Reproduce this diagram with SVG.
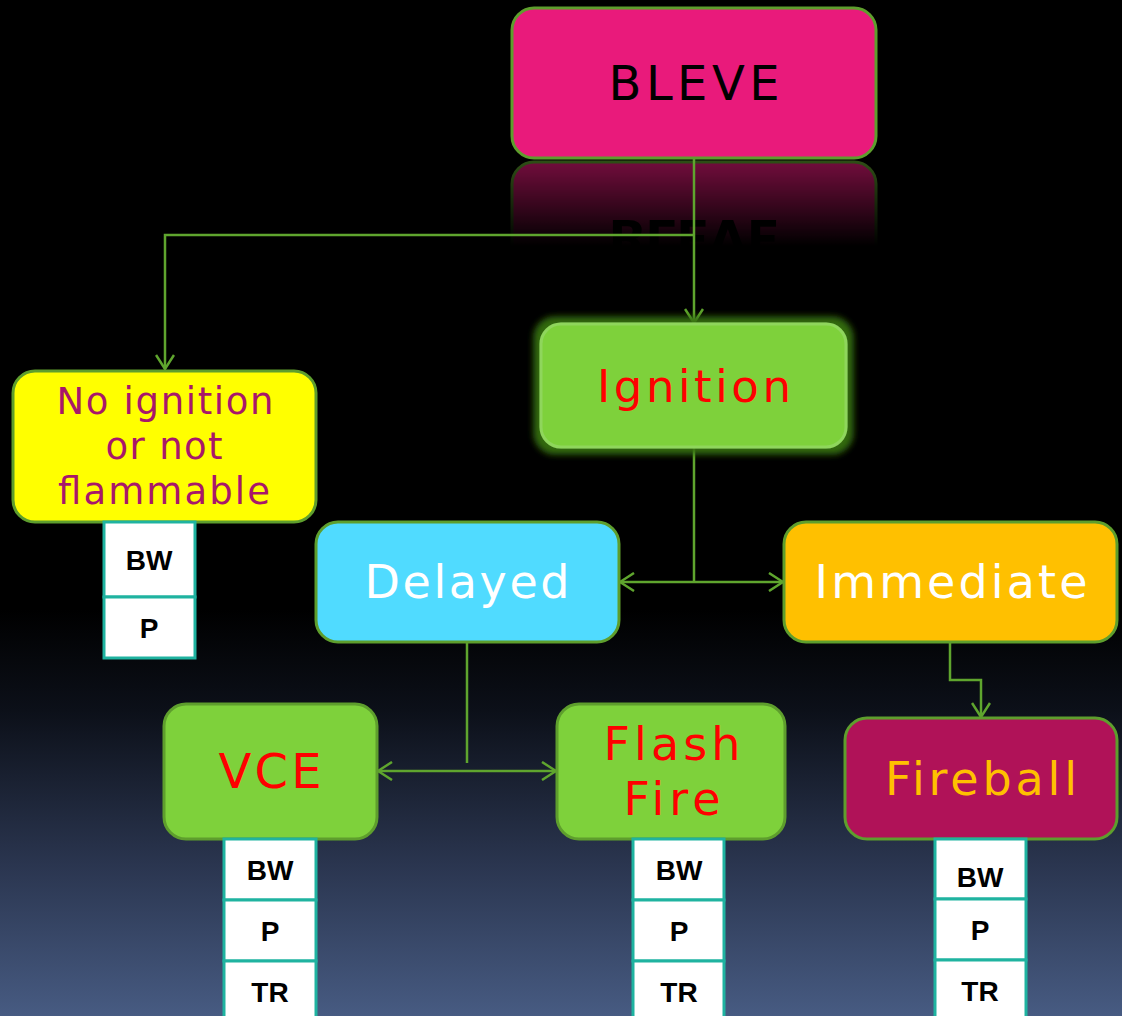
<svg xmlns="http://www.w3.org/2000/svg" width="1122" height="1016" viewBox="0 0 1122 1016">
<defs>
<linearGradient id="bg" x1="0" y1="0" x2="0" y2="1016" gradientUnits="userSpaceOnUse">
<stop offset="0" stop-color="#000"/>
<stop offset="0.6" stop-color="#000"/>
<stop offset="0.7" stop-color="#0c1019"/>
<stop offset="0.85" stop-color="#2a354f"/>
<stop offset="1" stop-color="#475b82"/>
</linearGradient>
<linearGradient id="reflFade" x1="0" y1="160" x2="0" y2="246" gradientUnits="userSpaceOnUse">
<stop offset="0" stop-color="#fff" stop-opacity="0.5"/>
<stop offset="1" stop-color="#fff" stop-opacity="0"/>
</linearGradient>
<mask id="reflMask" maskUnits="userSpaceOnUse" x="0" y="150" width="1122" height="110">
<rect x="0" y="150" width="1122" height="110" fill="url(#reflFade)"/>
</mask>
<filter id="glow2" x="-20%" y="-30%" width="140%" height="160%">
<feMorphology in="SourceAlpha" operator="dilate" radius="6" result="d"/>
<feGaussianBlur in="d" stdDeviation="3" result="b"/>
<feFlood flood-color="#356f10" flood-opacity="0.95"/>
<feComposite operator="in" in2="b" result="g"/>
<feMerge><feMergeNode in="g"/><feMergeNode in="SourceGraphic"/></feMerge>
</filter>
<marker id="arr" markerUnits="userSpaceOnUse" viewBox="0 0 16 20" refX="15" refY="10" markerWidth="16" markerHeight="20" orient="auto-start-reverse">
<path d="M1,1 L15,10 L1,19" fill="none" stroke="#5fa52e" stroke-width="2.5"/>
</marker>
<style>
.box{stroke:#5e9e2d;stroke-width:3}
.lbl{font-family:"DejaVu Sans","Verdana",sans-serif;text-anchor:middle}
.conn{fill:none;stroke:#5fa52e;stroke-width:2.5}
.cell{fill:#fff;stroke:#1fb3a0;stroke-width:3}
.ct{font-family:"Liberation Sans",Arial,sans-serif;font-weight:bold;font-size:28px;fill:#000;text-anchor:middle}
</style>
</defs>
<rect width="1122" height="1016" fill="url(#bg)"/>

<g id="bleve-reflection" mask="url(#reflMask)">
<g transform="translate(0,320) scale(1,-1)">
<rect x="512" y="8" width="364" height="150" rx="22" fill="#e91a7b" stroke="#5e9e2d" stroke-width="3"/>
<text x="694" y="100" class="lbl" font-size="48" font-weight="bold" fill="#000" textLength="171" lengthAdjust="spacing">BLEVE</text>
</g>
</g>

<g id="connectors">
<path class="conn" d="M694,158 V323" marker-end="url(#arr)"/>
<path class="conn" d="M694,235 H165 V369" marker-end="url(#arr)"/>
<path class="conn" d="M694,447 V582"/>
<path class="conn" d="M620,582 H783" marker-start="url(#arr)" marker-end="url(#arr)"/>
<path class="conn" d="M467,642 V763"/>
<path class="conn" d="M378,771 H556" marker-start="url(#arr)" marker-end="url(#arr)"/>
<path class="conn" d="M950,642 V680 H981 V717" marker-end="url(#arr)"/>
</g>

<g id="node-bleve">
<rect class="box" x="512" y="8" width="364" height="150" rx="22" fill="#e91a7b"/>
<text class="lbl" x="694" y="100" font-size="48" fill="#000" textLength="171" lengthAdjust="spacing">BLEVE</text>
</g>

<g id="node-ignition">
<rect x="541" y="324" width="305" height="123" rx="20" fill="#7ed13b" stroke="#8fd65c" stroke-width="3" filter="url(#glow2)"/>
<text class="lbl" x="694" y="402" font-size="45" fill="#ff0000" textLength="194" lengthAdjust="spacing">Ignition</text>
</g>

<g id="node-no-ignition">
<rect class="box" x="13" y="371" width="303" height="151" rx="22" fill="#ffff00"/>
<text class="lbl" x="165" y="414" font-size="37" fill="#a8176a" textLength="217" lengthAdjust="spacing">No ignition</text>
<text class="lbl" x="164" y="459" font-size="37" fill="#a8176a" textLength="117" lengthAdjust="spacing">or not</text>
<text class="lbl" x="164" y="504" font-size="37" fill="#a8176a" textLength="212" lengthAdjust="spacing">flammable</text>
</g>

<g id="table-no-ignition">
<rect class="cell" x="104" y="522" width="91" height="75"/>
<rect class="cell" x="104" y="597" width="91" height="61"/>
<text class="ct" x="149" y="570">BW</text>
<text class="ct" x="149" y="638">P</text>
</g>

<g id="node-delayed">
<rect class="box" x="316" y="522" width="303" height="120" rx="22" fill="#50dbff"/>
<text class="lbl" x="467" y="598" font-size="46" fill="#fff" textLength="205" lengthAdjust="spacing">Delayed</text>
</g>

<g id="node-immediate">
<rect class="box" x="784" y="522" width="333" height="120" rx="22" fill="#ffc000"/>
<text class="lbl" x="951" y="598" font-size="46" fill="#fff" textLength="273" lengthAdjust="spacing">Immediate</text>
</g>

<g id="node-vce">
<rect class="box" x="164" y="704" width="213" height="135" rx="22" fill="#7ed13b"/>
<text class="lbl" x="270" y="788" font-size="48" fill="#ff0000" textLength="103" lengthAdjust="spacing">VCE</text>
</g>

<g id="node-flash-fire">
<rect class="box" x="557" y="704" width="228" height="135" rx="22" fill="#7ed13b"/>
<text class="lbl" x="672" y="760" font-size="46" fill="#ff0000" textLength="137" lengthAdjust="spacing">Flash</text>
<text class="lbl" x="672" y="815" font-size="46" fill="#ff0000" textLength="97" lengthAdjust="spacing">Fire</text>
</g>

<g id="node-fireball">
<rect class="box" x="845" y="718" width="272" height="121" rx="22" fill="#b01258"/>
<text class="lbl" x="981" y="795" font-size="46" fill="#ffc000" textLength="192" lengthAdjust="spacing">Fireball</text>
</g>

<g id="table-vce">
<rect class="cell" x="224" y="839" width="92" height="61"/>
<rect class="cell" x="224" y="900" width="92" height="61"/>
<rect class="cell" x="224" y="961" width="92" height="61"/>
<text class="ct" x="270" y="880">BW</text>
<text class="ct" x="270" y="941">P</text>
<text class="ct" x="270" y="1002">TR</text>
</g>

<g id="table-flash-fire">
<rect class="cell" x="633" y="839" width="91" height="61"/>
<rect class="cell" x="633" y="900" width="91" height="61"/>
<rect class="cell" x="633" y="961" width="91" height="61"/>
<text class="ct" x="679" y="880">BW</text>
<text class="ct" x="679" y="941">P</text>
<text class="ct" x="679" y="1002">TR</text>
</g>

<g id="table-fireball">
<rect class="cell" x="935" y="839" width="91" height="60"/>
<rect class="cell" x="935" y="899" width="91" height="61"/>
<rect class="cell" x="935" y="960" width="91" height="61"/>
<text class="ct" x="980" y="887">BW</text>
<text class="ct" x="980" y="940">P</text>
<text class="ct" x="980" y="1001">TR</text>
</g>
</svg>
